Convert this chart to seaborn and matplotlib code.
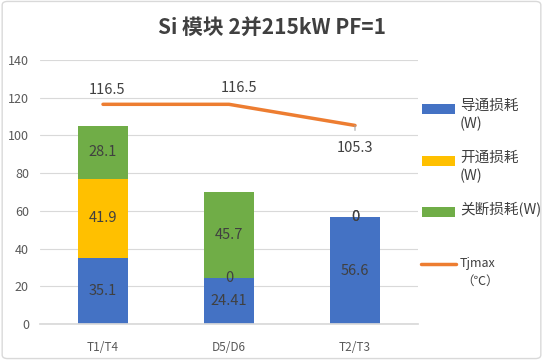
import matplotlib
matplotlib.use("Agg")
import matplotlib.pyplot as plt
import seaborn as sns
from matplotlib.patches import Rectangle, FancyBboxPatch
from matplotlib.lines import Line2D

# =========================
# 数据
# =========================
categories = ["T1/T4", "D5/D6", "T2/T3"]
cond_loss = [35.1, 24.41, 56.6]      # 导通损耗
on_loss = [41.9, 0, 0]               # 开通损耗
off_loss = [28.1, 45.7, 0]           # 关断损耗
tjmax = [116.5, 116.5, 105.3]

series_labels = ["导通损耗\n(W)", "开通损耗\n(W)", "关断损耗(W)"]
line_label = ["Tjmax", "（℃）"]
title = "Si 模块 2并215kW PF=1"

C_BLUE = "#4472C4"
C_GOLD = "#FFC000"
C_GREEN = "#70AD47"
C_LINE = "#ED7D31"
C_TEXT = "#404040"
C_TICK = "#595959"

sns.set_theme(style="whitegrid")
plt.rcParams["font.family"] = ["Noto Sans CJK SC", "DejaVu Sans"]

W, H = 543, 360
fig = plt.figure(figsize=(W / 100, H / 100), dpi=100)
ax = fig.add_axes([40 / W, 1 - 324 / H, 378 / W, 264 / H])

x = list(range(len(categories)))
bottom2 = [a + b for a, b in zip(cond_loss, on_loss)]

bar_kw = dict(width=0.4, ax=ax, saturation=1, linewidth=0)
sns.barplot(x=categories, y=cond_loss, color=C_BLUE, **bar_kw)
sns.barplot(x=categories, y=on_loss, bottom=cond_loss, color=C_GOLD, **bar_kw)
sns.barplot(x=categories, y=off_loss, bottom=bottom2, color=C_GREEN, **bar_kw)
sns.lineplot(x=x, y=tjmax, color=C_LINE, linewidth=2.5, ax=ax)

# 数据标签
LBL = 10.5
for i in x:
    ax.text(i, cond_loss[i] / 2, f"{cond_loss[i]:g}", ha="center", va="center",
            fontsize=LBL, color=C_TEXT)
    ax.text(i, cond_loss[i] + on_loss[i] / 2, f"{on_loss[i]:g}", ha="center", va="center",
            fontsize=LBL, color=C_TEXT)
    ax.text(i, bottom2[i] + off_loss[i] / 2, f"{off_loss[i]:g}", ha="center", va="center",
            fontsize=LBL, color=C_TEXT)

ax.annotate(f"{tjmax[0]:g}", (0, tjmax[0]), xytext=(3, 10), textcoords="offset points",
            ha="center", va="center", fontsize=LBL, color=C_TEXT)
ax.annotate(f"{tjmax[1]:g}", (1, tjmax[1]), xytext=(7, 12), textcoords="offset points",
            ha="center", va="center", fontsize=LBL, color=C_TEXT)
ax.annotate(f"{tjmax[2]:g}", (2, tjmax[2]), xytext=(0, -16), textcoords="offset points",
            ha="center", va="center", fontsize=LBL, color=C_TEXT,
            arrowprops=dict(arrowstyle="-", color="#A6A6A6", lw=0.8, shrinkA=5, shrinkB=0))

ax.set_ylim(0, 140)
ax.set_xlim(-0.5, 2.5)
ax.set_yticks(range(0, 141, 20))
ax.set_xlabel("")
ax.set_ylabel("")
ax.grid(axis="x", visible=False)
ax.grid(axis="y", color="#D9D9D9", linewidth=0.8)
for s in ["top", "right", "left"]:
    ax.spines[s].set_visible(False)
ax.spines["bottom"].set_color("#D9D9D9")
ax.tick_params(axis="y", labelsize=9, colors=C_TICK, length=0, pad=8)
ax.tick_params(axis="x", labelsize=8.5, colors=C_TICK, length=0, pad=12)

fig.text(0.5, 1 - 27 / H, title, ha="center", va="center", fontsize=15,
         fontweight="bold", color=C_TEXT)

# 图例（手动排布，标记与首行文字对齐）
def px(xp, yp):
    return xp / W, 1 - yp / H

for color, label, yc in zip([C_BLUE, C_GOLD, C_GREEN], series_labels, [109, 161, 212]):
    x0, y0 = px(422, yc + 5)
    fig.add_artist(Rectangle((x0, y0), 33 / W, 10 / H, transform=fig.transFigure,
                             facecolor=color, edgecolor="none"))
    tx, ty = px(460, yc - 10)
    fig.text(tx, ty, label, ha="left", va="top", fontsize=10.5, color=C_TEXT, linespacing=1.3)

lx0, ly = px(421, 264)
lx1, _ = px(456, 264)
fig.add_artist(Line2D([lx0, lx1], [ly, ly], transform=fig.transFigure, color=C_LINE, lw=2.5))
fig.text(*px(460, 264), line_label[0], ha="left", va="center", fontsize=9, color=C_TEXT)
fig.text(*px(461, 281), line_label[1], ha="left", va="center", fontsize=9, color=C_TEXT)

# 外框
fig.patches.append(FancyBboxPatch((0.004, 0.004), 0.992, 0.992, boxstyle="round,pad=0,rounding_size=0.01",
                                  transform=fig.transFigure, fill=False, edgecolor="#D9D9D9", lw=1))

plt.savefig("out.png", dpi=100)
